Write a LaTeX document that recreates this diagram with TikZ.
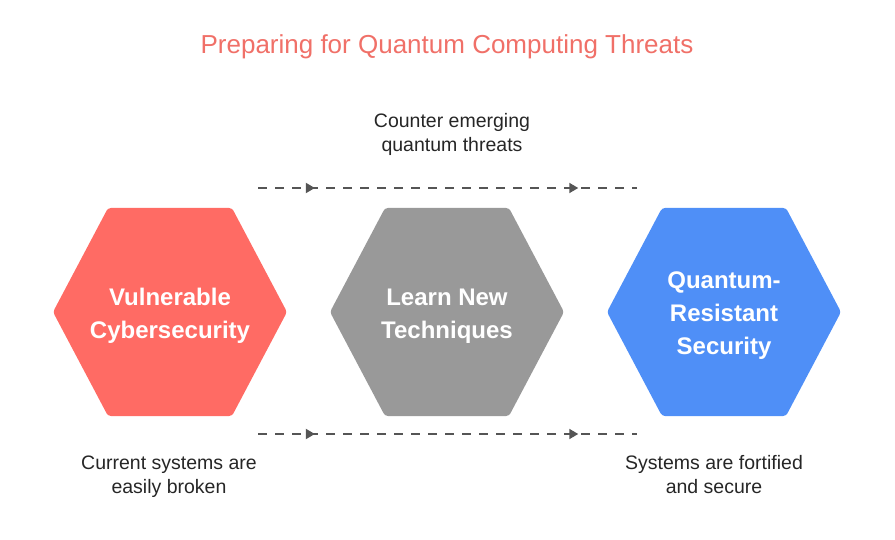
\documentclass[tikz,border=0pt]{standalone}
\usepackage{fontspec}
\setmainfont{Liberation Sans}
\usetikzlibrary{arrows.meta,decorations.markings}
\definecolor{cred}{HTML}{FF6B64}
\definecolor{cgray}{HTML}{999999}
\definecolor{cblue}{HTML}{4F8FF7}
\definecolor{ctitle}{HTML}{F07068}
\definecolor{cline}{HTML}{555555}
\begin{document}
\begin{tikzpicture}[x=1pt,y=-1pt,
  hextext/.style={text=white,font=\bfseries\fontsize{24}{33}\selectfont,align=center},
  lbl/.style={text=black!85,font=\fontsize{19.5}{24}\selectfont,align=center},
  flow/.style={draw=cline,line width=1.8pt,dash pattern=on 9pt off 8pt,
    decoration={markings,mark=at position 0.15 with {\arrow{Triangle[length=9pt,width=10pt]}},
      mark=at position 0.845 with {\arrow{Triangle[length=9pt,width=10pt]}}},postaction=decorate}]
\useasboundingbox (0,0) rectangle (895,540);
\node[text=ctitle,font=\fontsize{26}{30}\selectfont] (title) at (447,47) {Preparing for Quantum Computing Threats};
\foreach \cx/\col/\nm in {170/cred/h1,447/cgray/h2,724/cblue/h3}{
  \fill[\col,rounded corners=3pt] (\cx-117,312)--(\cx-62,208)--(\cx+62,208)--(\cx+117,312)--(\cx+62,416)--(\cx-62,416)--cycle;
  \coordinate (\nm) at (\cx,316);
}
\node[hextext] (t1) at (h1) {Vulnerable\\Cybersecurity};
\node[hextext] (t2) at (h2) {Learn New\\Techniques};
\node[hextext] (t3) at (h3) {Quantum-\\Resistant\\Security};
\coordinate (a1) at (258,188); \coordinate (a2) at (637,188);
\coordinate (b1) at (258,434); \coordinate (b2) at (637,434);
\draw[flow] (a1) -- (a2);
\draw[flow] (b1) -- (b2);
\node[lbl] (l1) at (452,134) {Counter emerging\\quantum threats};
\node[lbl] (l2) at (169,477) {Current systems are\\easily broken};
\node[lbl] (l3) at (714,475) {Systems are fortified\\and secure};
\end{tikzpicture}
\end{document}
